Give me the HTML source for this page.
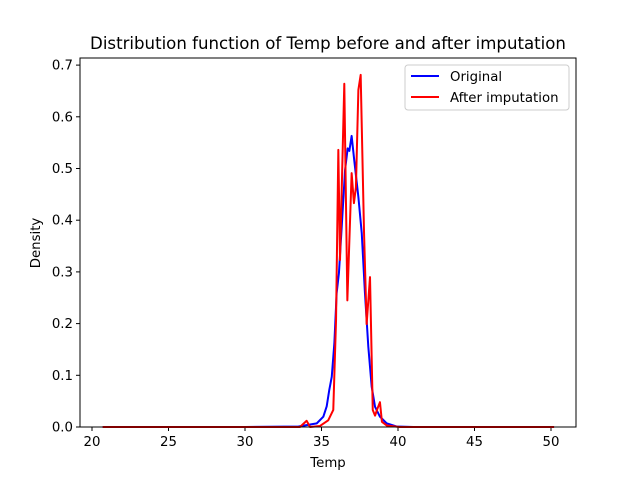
<!DOCTYPE html>
<html><head><meta charset="utf-8"><style>body{margin:0;background:#fff}svg text{font-family:"DejaVu Sans","Liberation Sans",sans-serif;fill:#000}</style></head>
<body>
<svg id="chart" width="640" height="480" viewBox="0 0 640 480">
<rect width="640" height="480" fill="#fff"/>
<text x="328" y="49" font-size="16.6" text-anchor="middle">Distribution function of Temp before and after imputation</text>
<g id="axes"></g>
<g id="series"></g>
<rect x="80" y="58" width="496" height="369" fill="none" stroke="#000" stroke-width="1"/>
<text x="328" y="467" font-size="13.3" text-anchor="middle">Temp</text>
<text x="40" y="243" font-size="13.3" text-anchor="middle" transform="rotate(-90 40 243)">Density</text>
<g>
<rect x="405" y="65" width="164" height="45" fill="#fff" stroke="#ccc" rx="3"/>
<line x1="411" y1="76" x2="439" y2="76" stroke="#0000ff" stroke-width="2"/>
<text x="450" y="81" font-size="13.3">Original</text>
<line x1="411" y1="97" x2="439" y2="97" stroke="#ff0000" stroke-width="2"/>
<text x="450" y="102" font-size="13.3">After imputation</text>
</g>
</svg>
<script>
const xTicks=[20,25,30,35,40,45,50];
const yTicks=[0,0.1,0.2,0.3,0.4,0.5,0.6,0.7];
const origT=[20.7,30,33.5,34.69,35.12,35.34,35.51,35.67,35.84,35.99,36.14,36.32,36.54,36.71,36.82,36.97,37.14,37.41,37.63,37.84,38.06,38.28,38.5,38.82,39.26,39.9,41,50.2];
const origD=[0,0,0.001,0.007,0.02,0.04,0.072,0.097,0.162,0.259,0.298,0.387,0.497,0.539,0.534,0.563,0.516,0.445,0.375,0.259,0.155,0.078,0.039,0.02,0.007,0.001,0,0];
const impT=[20.7,33.59,34.03,34.25,34.9,35.44,35.77,35.95,36.10,36.21,36.49,36.69,36.97,37.12,37.25,37.41,37.56,37.78,37.95,38.17,38.35,38.5,38.65,38.82,38.95,39.26,40.1,50.2];
const impD=[0,0,0.012,0,0.002,0.013,0.033,0.207,0.536,0.323,0.664,0.245,0.491,0.433,0.464,0.652,0.681,0.376,0.199,0.29,0.033,0.022,0.035,0.048,0.01,0.003,0,0];
const NS='http://www.w3.org/2000/svg';
const xs=t=>92+(t-20)*15.3;
const ys=d=>427-d*517;
const axes=document.getElementById('axes'),ser=document.getElementById('series');
function mk(tag,attrs,parent){const e=document.createElementNS(NS,tag);for(const k in attrs)e.setAttribute(k,attrs[k]);parent.appendChild(e);return e;}
xTicks.forEach(v=>{const x=xs(v);
const l=mk('line',{x1:x,x2:x,y1:427,y2:431,stroke:'#000'},axes);


const t=mk('text',{x:x,y:446,'font-size':13.3,'text-anchor':'middle'},axes);t.textContent=v;

});
yTicks.forEach(v=>{const y=ys(v);
const l=mk('line',{x1:76,x2:80,y1:y,y2:y,stroke:'#000'},axes);


const t=mk('text',{x:73,y:y+4.5,'font-size':13.3,'text-anchor':'end'},axes);t.textContent=v.toFixed(1);

});
function line(T,D,c,name){const p=mk('polyline',{points:T.map((t,i)=>xs(t)+','+ys(D[i])).join(' '),fill:'none',stroke:c,'stroke-width':2,'stroke-linejoin':'round'},ser);

}
line(origT,origD,'#0000ff','original-line');
line(impT,impD,'#ff0000','after-imputation-line');
</script>
</body></html>
